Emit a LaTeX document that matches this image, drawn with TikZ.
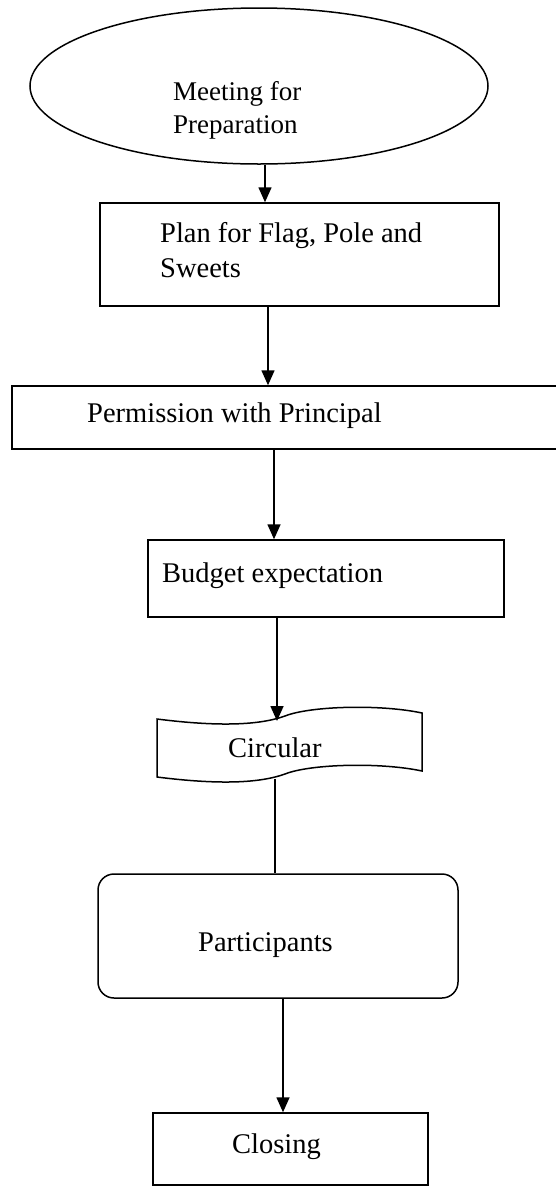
\documentclass[tikz,border=0pt]{standalone}
\usepackage{fontspec}
\setmainfont{Liberation Serif}
\usetikzlibrary{shapes.geometric,arrows.meta}
\begin{document}
\begin{tikzpicture}[x=1pt,y=-1pt,
  shp/.style={draw=black,line width=1.5pt,inner sep=0pt},
  txt/.style={anchor=base west,inner sep=0pt,font=\fontsize{28.5}{34}\selectfont},
  etxt/.style={anchor=base west,inner sep=0pt,font=\fontsize{27}{33}\selectfont},
  arr/.style={line width=1.6pt,-{Triangle[width=13pt,length=15pt]}},
  ln/.style={line width=1.6pt}]
\useasboundingbox (0,0) rectangle (555,1187);
% shapes
\node[shp,ellipse,minimum width=458pt,minimum height=156pt] (meet) at (259,86) {};
\node[shp,rectangle,minimum width=399pt,minimum height=103pt] (plan) at (299.5,254.5) {};
\node[shp,rectangle,minimum width=553pt,minimum height=63pt] (perm) at (288.5,417.5) {};
\node[shp,rectangle,minimum width=356pt,minimum height=77pt] (budget) at (326,578.5) {};
\draw[line width=1.5pt] (157,719) .. controls (220,727) and (260,725) .. (285,716)
  .. controls (310,706) and (380,704) .. (422,713)
  -- (422,771) .. controls (380,762) and (310,764) .. (285,774)
  .. controls (260,783) and (220,785) .. (157,777) -- cycle;
\coordinate (circin) at (277,721);
\coordinate (circout) at (275,779);
\node[shp,rectangle,rounded corners=16pt,minimum width=360pt,minimum height=124pt] (part) at (278,936) {};
\node[shp,rectangle,minimum width=275pt,minimum height=72pt] (close) at (290.5,1149) {};
% texts
\node[etxt] (t1a) at (173,100) {Meeting for};
\node[etxt] (t1b) at (173,133) {Preparation};
\node[txt] (t2a) at (160,242) {Plan for Flag, Pole and};
\node[txt] (t2b) at (160,277) {Sweets};
\node[txt] (t3) at (87,422) {Permission with Principal};
\node[txt] (t4) at (162,582) {Budget expectation};
\node[txt] (t5) at (228,757) {Circular};
\node[txt] (t6) at (198,951) {Participants};
\node[txt] (t7) at (232,1153) {Closing};
% connectors
\coordinate (xa) at (265,0);
\coordinate (xb) at (268,0);
\coordinate (xc) at (274,0);
\coordinate (xd) at (277,0);
\coordinate (xe) at (283,0);
\draw[arr] (meet.south -| xa) -- (plan.north -| xa);
\draw[arr] (plan.south -| xb) -- (perm.north -| xb);
\draw[arr] (perm.south -| xc) -- (budget.north -| xc);
\draw[arr] (budget.south -| xd) -- (circin);
\draw[ln] (circout) -- (part.north -| circout);
\draw[arr] (part.south -| xe) -- (close.north -| xe);
\end{tikzpicture}
\end{document}
